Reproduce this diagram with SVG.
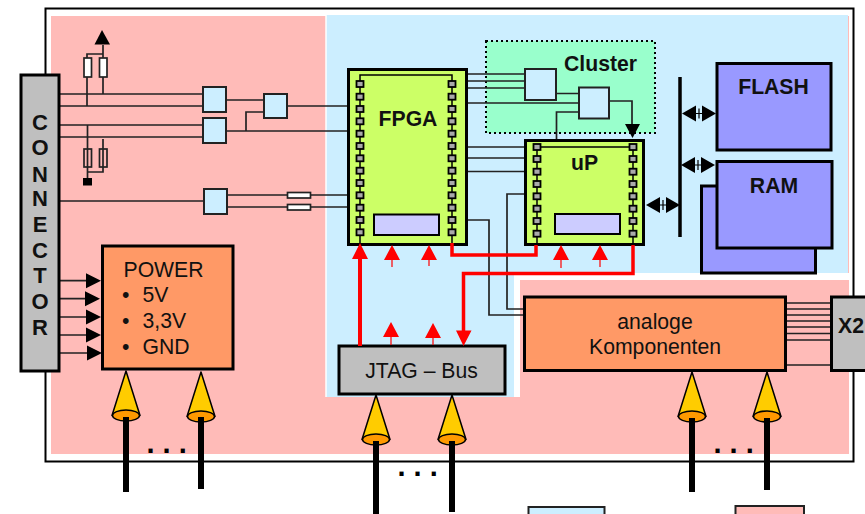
<svg xmlns="http://www.w3.org/2000/svg" width="865" height="514" viewBox="0 0 865 514">
<style>
text{font-family:"Liberation Sans",Arial,sans-serif;font-size:21.2px;fill:#111}
.b{font-weight:bold}
.m{text-anchor:middle}
.c{font-size:22px;font-weight:bold;text-anchor:middle}
.sm{fill:#cceeff;stroke:#222;stroke-width:2}
.chip{fill:#ccff66;stroke:#000;stroke-width:3}
.in{fill:#ccccff;stroke:#000;stroke-width:2}
.gray{fill:#bfbfbf;stroke:#000;stroke-width:3}
.or{fill:#ff9966;stroke:#000;stroke-width:3}
.mem{fill:#9999ff;stroke:#000;stroke-width:3}
.w{fill:none;stroke:#222;stroke-width:1.7}
.res{fill:#fff;stroke:#222;stroke-width:1.7}
.resp{fill:none;stroke:#222;stroke-width:1.7}
.red{fill:none;stroke:#f00;stroke-width:3.5}
.redt{fill:none;stroke:#f00;stroke-width:1.2}
.dots{font-size:29px;font-weight:bold;fill:#000}
</style>
<defs>
<rect id="pin" x="-3.500" y="-3" width="7" height="6" fill="#aaa" stroke="#000" stroke-width="1.800"/>
<g id="cone">
<path d="M0 0L-14 44.500H14Z" fill="#fc0" stroke="#000" stroke-width="1.500" stroke-linejoin="round"/>
<ellipse cx="0" cy="44.500" rx="13.500" ry="5.500" fill="#f90" stroke="#000" stroke-width="1.500"/>
</g>
<g id="dbl">
<path d="M0 0L14 -8V8Z M34 0L20 -8V8Z" fill="#000"/>
<path d="M14 0H20M17 -5V5" stroke="#000" stroke-width="1.200" fill="none"/>
</g>
<path id="ra" d="M0 -7.500L15 0L0 7.500Z" fill="#000"/>
<path id="rup" d="M0 0L-8 15H8Z" fill="#f00"/>
</defs>

<g id="background">
<rect x="45.500" y="8.500" width="808" height="453" fill="#fff" stroke="#000" stroke-width="2"/>
<rect x="51" y="16" width="798" height="438" fill="#ffbbb8"/>
<path d="M326 15H848V273H520V397H326Z" fill="#cceeff"/>
<path d="M514 273H520V397H514Z M514 273H849V280H514Z" fill="#fff"/>
<path d="M326 15V397" stroke="#fff" stroke-width="1.500"/>
</g>

<g id="cluster">
<rect x="486" y="41" width="169" height="92" fill="#99ffcc" stroke="#000" stroke-width="2" stroke-dasharray="2 3"/>
<text class="b m" x="600.500" y="71">Cluster</text>
</g>

<g id="connectors">
<path class="w" d="M59 94H203M59 106H203M59 125H203M59 137H203M59 201H204M226 100H264M226 131H348M246 131V112H264M287 106H348M227 195H348M227 207H348"/>
<path class="w" d="M87 106V54H103M103 94V45M87.500 125V178M103 139V172H87.500"/>
<path class="w" d="M467 74H525M467 81H525M467 88H525M467 103H579M556 93.500H579M609 101H632V126M556.500 140V112H579M467 147H525M467 158H525M467 171.500H525M467 220H489V315H524M525 194H507V309H524"/>
<path class="w" d="M786 303H831M786 309H831M786 315H831M786 321H831M786 327H831M786 333.500H831M786 340H831M786 365H831"/>
<path d="M625 124H640L632.500 138Z" fill="#000"/>
<path d="M102 30L94.500 44.500H110Z" fill="#000"/>
<rect x="83" y="178" width="9" height="7.500" fill="#000"/>
<rect class="res" x="84" y="58" width="7.500" height="19"/>
<rect class="res" x="99.500" y="58" width="7.500" height="19"/>
<rect class="resp" x="84" y="149" width="7.500" height="18"/>
<rect class="resp" x="99.500" y="149" width="7.500" height="18"/>
<rect class="res" x="287.500" y="192.500" width="23" height="5.500"/>
<rect class="res" x="287.500" y="204.500" width="23" height="5.500"/>
<path class="w" d="M59 280.700H87M59 298.700H86M59 317H86M59 335H86M59 353H87"/>
<use href="#ra" x="86" y="280.700"/><use href="#ra" x="85" y="298.700"/><use href="#ra" x="86" y="317"/><use href="#ra" x="86" y="335"/><use href="#ra" x="87" y="353"/>
<path d="M680 77V237" stroke="#000" stroke-width="3.500"/>
<use href="#dbl" x="682" y="113.500"/><use href="#dbl" x="681" y="165"/><use href="#dbl" x="646" y="205"/>
</g>

<g id="box1"><rect class="sm" x="203" y="87" width="23" height="25"/></g>
<g id="box2"><rect class="sm" x="203" y="118" width="23" height="25"/></g>
<g id="box3"><rect class="sm" x="264" y="94" width="23" height="24"/></g>
<g id="box4"><rect class="sm" x="204" y="189" width="23" height="25"/></g>
<g id="box5"><rect class="sm" x="525" y="69" width="31" height="31"/></g>
<g id="box6"><rect class="sm" x="579" y="87.500" width="30" height="31"/></g>

<g id="conn">
<rect class="gray" x="21" y="75" width="38" height="296"/>
<text class="c" x="40" y="129.500">C</text>
<text class="c" x="40" y="155">O</text>
<text class="c" x="40" y="181.500">N</text>
<text class="c" x="40" y="206">N</text>
<text class="c" x="40" y="231.500">E</text>
<text class="c" x="40" y="258">C</text>
<text class="c" x="40" y="283">T</text>
<text class="c" x="40" y="309">O</text>
<text class="c" x="40" y="335">R</text>
</g>

<g id="fpga">
<rect class="chip" x="348.500" y="69.500" width="118" height="175"/>
<path d="M360 245V75H452V245" fill="none" stroke="#000" stroke-width="1.500"/>
<use href="#pin" x="360" y="84"/><use href="#pin" x="360" y="96.700"/><use href="#pin" x="360" y="109"/><use href="#pin" x="360" y="121.300"/><use href="#pin" x="360" y="133.700"/><use href="#pin" x="360" y="146"/><use href="#pin" x="360" y="158.300"/><use href="#pin" x="360" y="170.700"/><use href="#pin" x="360" y="183"/><use href="#pin" x="360" y="195.300"/><use href="#pin" x="360" y="207.700"/><use href="#pin" x="360" y="220"/><use href="#pin" x="360" y="232.300"/>
<use href="#pin" x="452" y="84"/><use href="#pin" x="452" y="96.700"/><use href="#pin" x="452" y="109"/><use href="#pin" x="452" y="121.300"/><use href="#pin" x="452" y="133.700"/><use href="#pin" x="452" y="146"/><use href="#pin" x="452" y="158.300"/><use href="#pin" x="452" y="170.700"/><use href="#pin" x="452" y="183"/><use href="#pin" x="452" y="195.300"/><use href="#pin" x="452" y="207.700"/><use href="#pin" x="452" y="220"/><use href="#pin" x="452" y="232.300"/>
<rect class="in" x="374" y="214.500" width="65" height="20.500"/>
<text class="b m" x="408" y="125.500">FPGA</text>
</g>

<g id="up">
<rect class="chip" x="525.500" y="140.500" width="118" height="104"/>
<path d="M537 245V147H633V245" fill="none" stroke="#000" stroke-width="1.500"/>
<use href="#pin" x="537" y="147"/><use href="#pin" x="537" y="159"/><use href="#pin" x="537" y="171.700"/><use href="#pin" x="537" y="184"/><use href="#pin" x="537" y="196.300"/><use href="#pin" x="537" y="208.700"/><use href="#pin" x="537" y="221"/><use href="#pin" x="537" y="233.700"/>
<use href="#pin" x="633" y="147"/><use href="#pin" x="633" y="159"/><use href="#pin" x="633" y="171.700"/><use href="#pin" x="633" y="184"/><use href="#pin" x="633" y="196.300"/><use href="#pin" x="633" y="208.700"/><use href="#pin" x="633" y="221"/><use href="#pin" x="633" y="233.700"/>
<rect class="in" x="555" y="214" width="65" height="20"/>
<text class="b m" x="584.500" y="170">uP</text>
</g>

<g id="flash"><rect class="mem" x="717" y="63.500" width="114" height="86.500"/><text class="b m" x="773.500" y="94">FLASH</text></g>
<g id="ram">
<rect class="mem" x="701.500" y="186" width="114" height="87"/>
<rect class="mem" x="717" y="161.500" width="115" height="86.500"/>
<text class="b m" x="774" y="193">RAM</text>
</g>

<g id="power">
<rect class="or" x="102.500" y="246" width="130.500" height="123"/>
<text x="123.500" y="277">POWER</text>
<text x="122" y="302">•</text><text x="142.500" y="302">5V</text>
<text x="122" y="328">•</text><text x="142.500" y="328">3,3V</text>
<text x="122" y="354">•</text><text x="142.500" y="354">GND</text>
</g>

<g id="jtag">
<rect class="gray" x="339" y="346" width="166" height="48"/>
<text class="m" x="421.500" y="378">JTAG – Bus</text>
</g>

<g id="analog">
<rect class="or" x="524.500" y="297" width="261" height="73.500"/>
<text class="m" x="655" y="329">analoge</text>
<text class="m" x="655" y="354">Komponenten</text>
</g>

<g id="x2">
<rect class="gray" x="831.500" y="297" width="40" height="73.500"/>
<text class="b" x="838" y="333">X2</text>
</g>

<g id="red-connectors">
<path class="red" d="M452 243V255H536V245M633 245V273.500H463.500V332"/>
<path d="M360 346V258" stroke="#f00" stroke-width="4" fill="none"/>
<path d="M360 243L352 259H368Z M456 330.500H471.500L463.500 346Z" fill="#f00"/>
<use href="#rup" x="392" y="245"/><use href="#rup" x="429" y="245"/><use href="#rup" x="561" y="245"/><use href="#rup" x="600" y="245"/><use href="#rup" x="391" y="322"/><use href="#rup" x="433" y="323"/>
<path class="redt" d="M392 259V267M429 259V266M561 259V268M600 259V267M391 336V345M433 337V345"/>
</g>

<g id="cones">
<use href="#cone" x="126" y="371"/><use href="#cone" x="201" y="372"/><use href="#cone" x="376" y="395"/><use href="#cone" x="452" y="395"/><use href="#cone" x="692" y="372"/><use href="#cone" x="767" y="372"/>
</g>
<g id="inputs">
<path d="M126 417V492M201 417V489M376 441V514M452 441V512M692 418V492M767 418V490" stroke="#000" stroke-width="6" fill="none"/>
<text class="dots" x="146.500" y="452.500" xml:space="preserve">. . .</text>
<text class="dots" x="397.500" y="475.500" xml:space="preserve">. . .</text>
<text class="dots" x="713.500" y="452.500" xml:space="preserve">. . .</text>
</g>

<g id="bottom-blue"><rect x="528.500" y="507" width="76" height="12" fill="#cceeff" stroke="#222" stroke-width="2"/></g>
<g id="bottom-pink"><rect x="735.500" y="506" width="68.500" height="12" fill="#ffbbb8" stroke="#222" stroke-width="2"/></g>
</svg>
